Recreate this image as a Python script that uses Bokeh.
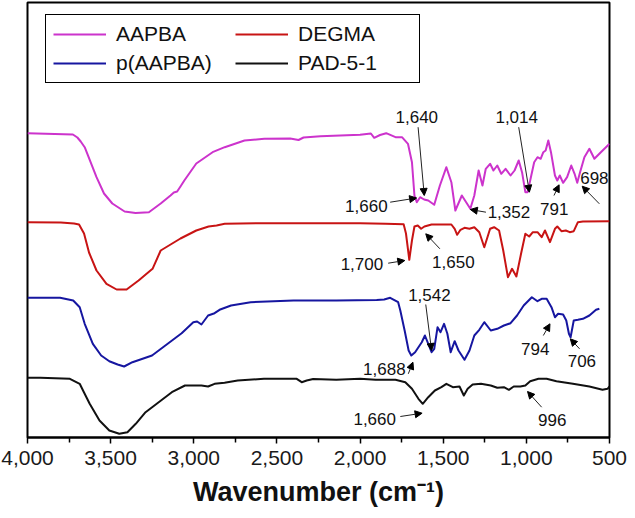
from bokeh.plotting import figure
from bokeh.models import (Range1d, FixedTicker, NumeralTickFormatter, Legend, LegendItem,
                          Arrow, NormalHead, ColumnDataSource)
from bokeh.core.properties import value
from bokeh.embed import file_html
from bokeh.resources import INLINE

# ---------------- data (wavenumber, offset transmittance a.u.) ----------------
aapba_w = [4000, 3727, 3700, 3680, 3656, 3585, 3540, 3490, 3416, 3350, 3270, 3199, 3140, 3120, 3100,
           3080, 3057, 2985, 2887,
           2814, 2695, 2576, 2420, 2370, 2340, 2238, 2000, 1935, 1915, 1880, 1843, 1787, 1748, 1712,
           1688, 1673, 1659, 1639, 1615, 1590, 1554, 1520, 1481, 1451, 1427, 1388, 1362, 1337, 1313,
           1287, 1264, 1244, 1218, 1198, 1175, 1151, 1125, 1095, 1071, 1046, 1026, 1006, 993, 977,
           953, 933, 914, 898, 884, 868, 852, 828, 814, 799, 779, 755, 730, 710, 694,
           677, 651, 621, 591, 552, 500]
aapba_t = [306.3, 305, 302, 298, 292.3, 262.3, 246, 236, 228, 226.5, 227.3, 236, 244, 247, 248,
           253, 259, 276, 287.3,
           292.3, 299, 300.7, 301, 299.5, 302, 303.3, 304.7, 306, 301.7, 304.5, 306.3, 302.3, 302.3, 295.7,
           277.3, 244, 237.3, 242.3, 240, 239, 234.7, 254, 272.3, 257.3, 229, 244, 237.3, 230.7, 244,
           269, 254, 270.7, 275.7, 269, 274, 265.7, 270.7, 264, 269, 279, 267.3, 247.3, 247.3, 259,
           277.3, 282.3, 280.7, 287.3, 289, 299, 287.3, 264, 259, 264, 256.7, 262.3, 274, 265.7, 256.7,
           267.3, 282.3, 290.7, 280.7, 287.3, 295.7]

degma_w = [4000, 3800, 3720, 3690, 3660, 3630, 3585, 3525, 3464, 3404, 3332, 3248, 3199, 3080, 2985,
           2911, 2863, 2814, 2600, 2000, 1847, 1738, 1724, 1704, 1688, 1673, 1653, 1633, 1613, 1570,
           1451, 1431, 1416, 1396, 1372, 1342, 1313, 1283, 1253, 1234, 1218, 1194, 1164, 1139, 1111,
           1086, 1060, 1032, 1006, 983, 961, 933, 908, 888, 858, 828, 814, 789, 763, 739,
           715, 690, 660, 500]
degma_t = [217.3, 217, 216, 215, 206, 187, 169, 155.7, 150, 150, 159, 170.7, 189, 201, 209,
           213, 214, 215.7, 216.3, 216.3, 215.7, 215.2, 206, 179.7, 199, 213, 214, 210.7, 213, 215,
           215, 210.7, 204.7, 209.7, 211.7, 210.7, 212.3, 207.3, 192.3, 202.3, 210.7, 212.3, 209, 189, 162.3,
           170.7, 163, 185.7, 205.7, 203, 207.3, 207.3, 202.3, 209, 197.3, 210.7, 213, 208.3, 209, 207.3,
           208.3, 217.3, 218, 218.3]

paapba_w = [4000, 3804, 3725, 3686, 3656, 3607, 3557, 3508, 3458, 3419, 3369, 3251, 3171, 3073, 3003,
            2980, 2954, 2914, 2875, 2845, 2776, 2658, 2400, 2143, 1900, 1855, 1819, 1771, 1758, 1732,
            1708, 1692, 1669, 1649, 1629, 1610, 1590, 1570, 1554, 1534, 1516, 1495, 1475, 1455, 1431,
            1408, 1372, 1342, 1313, 1283, 1253, 1214, 1175, 1135, 1095, 1056, 1016, 967, 933, 908,
            878, 849, 828, 809, 779, 760, 744, 734, 715, 690, 660, 621, 581, 561]
paapba_t = [141.7, 141.7, 139, 132.3, 115.7, 95.7, 84, 78.3, 75, 73, 77.3, 84, 94, 106.3, 117.3,
            118, 115, 124, 126.3, 129.7, 134, 137.3, 139, 139, 139.5, 140, 141.7, 137.3, 129, 109,
            89, 84, 87.3, 92.3, 97.3, 104, 95.7, 87.3, 90.7, 112.3, 107.3, 115.7, 105.7, 87.3, 98.3,
            89, 79.7, 89, 104, 109.7, 117.3, 109, 110.7, 114, 116.3, 124, 134, 142.3, 138.3, 140.7,
            140.7, 132.3, 122.3, 125.7, 125, 119, 105.7, 102.3, 119, 119.7, 120.7, 124, 129.7, 130.7]

pad_w = [4000, 3923, 3745, 3686, 3660, 3626, 3567, 3508, 3448, 3399, 3349, 3290, 3211, 3132, 3053, 2954,
         2914, 2875, 2815, 2736, 2578, 2381, 2351, 2321, 2282, 2143, 2000, 1906, 1787, 1728, 1688,
         1649, 1623, 1590, 1550, 1511, 1481, 1442, 1402, 1376, 1353, 1323, 1273, 1214, 1175, 1135,
         1105, 1076, 1036, 1006, 977, 927, 878, 819, 720, 621, 542, 512, 500]
pad_t = [61.7, 61.7, 60.7, 55.7, 47, 35.7, 19, 9, 5.7, 7.3, 15.7, 27.3, 37.3, 47.3, 54, 54,
         53, 55.7, 56.7, 59, 60.7, 60.7, 57.3, 59, 60.5, 59.7, 60.7, 59.7, 59.7, 57.3, 50.7,
         40.7, 35.7, 42.3, 49, 52.3, 55.7, 52.3, 53, 44, 50.7, 55, 55.7, 54, 51.7, 52.3,
         49.7, 53, 53, 54, 58.3, 60.7, 60.7, 58.3, 55.7, 53, 49.7, 50.7, 53]

series_names = ["AAPBA", "DEGMA", "p(AAPBA)", "PAD-5-1"]
series_colors = ["#CC33CC", "#C81414", "#1616A0", "#111111"]

# peak annotations: label text, label position, arrow start -> arrow end
ann_text = ["1,640", "1,660", "1,014", "1,352", "791", "698",
            "1,700", "1,650", "1,542", "1,688", "794", "706", "1,660", "996"]
ann_x = [1659, 1962, 1058, 1105, 832, 591, 1989, 1439, 1583, 1854, 947, 666, 1912, 844]
ann_y = [322.3, 234, 322.3, 228, 230.7, 261.3, 175.7, 178, 145, 70.7, 90.7, 79, 20.7, 19.7]
arr_x0 = [1651, 1819, 1046, 1243, 834, 561, 1831, 1520, 1605, 1710, 898, 680, 1758, 908]
arr_y0 = [312.3, 237.3, 312.3, 227.3, 244, 235.7, 176.3, 190.7, 135, 65.7, 104, 90.7, 23, 32.3]
arr_x1 = [1614, 1660, 982, 1337, 803, 664, 1731, 1605, 1570, 1682, 858, 736, 1627, 993]
arr_y1 = [244, 241.5, 247.3, 230, 254.7, 253.3, 179, 205.7, 89, 77.3, 115.7, 100.7, 26.3, 48]

x_ticks = [4000, 3500, 3000, 2500, 2000, 1500, 1000, 500]
x_minor = [3750, 3250, 2750, 2250, 1750, 1250, 750]

FONT = "Liberation Sans"

p = figure(width=627, height=510, output_backend="svg", toolbar_location=None,
           x_range=Range1d(4000, 500), y_range=Range1d(2, 437),
           min_border_left=27, min_border_right=18, min_border_top=2, min_border_bottom=73)
p.background_fill_color = "white"
p.border_fill_color = "white"
p.xgrid.visible = False
p.ygrid.visible = False
p.yaxis.visible = False
p.outline_line_color = "black"
p.outline_line_width = 2
p.outline_line_alpha = 1

ax = p.xaxis[0]
ax.ticker = FixedTicker(ticks=x_ticks, minor_ticks=x_minor)
ax.formatter = NumeralTickFormatter(format="0,0")
ax.axis_line_color = "black"
ax.axis_line_width = 2
ax.major_tick_in = 0
ax.major_tick_out = 6
ax.minor_tick_in = 0
ax.minor_tick_out = 5
ax.major_tick_line_width = 1.5
ax.minor_tick_line_width = 1.5
ax.major_tick_line_color = "black"
ax.minor_tick_line_color = "black"
ax.major_label_text_font = FONT
ax.major_label_text_font_size = "21px"
ax.major_label_text_color = "#1a1a1a"
ax.major_label_standoff = 7
ax.axis_label = "Wavenumber (cm\u207b\u00b9)"
ax.axis_label_text_font = FONT
ax.axis_label_text_font_size = "27px"
ax.axis_label_text_font_style = "bold"
ax.axis_label_text_color = "#111111"
ax.axis_label_standoff = 9

ws = [aapba_w, degma_w, paapba_w, pad_w]
ts = [aapba_t, degma_t, paapba_t, pad_t]
renderers = []
for w, t, c in zip(ws, ts, series_colors):
    r = p.line(x=w, y=t, line_color=c, line_width=2, line_join="round")
    renderers.append(r)

src = ColumnDataSource(dict(x=ann_x, y=ann_y, text=ann_text))
p.text(x="x", y="y", text="text", source=src, text_font=value(FONT),
       text_font_size=value("17px"), text_align="center", text_baseline="middle",
       text_color="#111111")

asrc = ColumnDataSource(dict(x0=arr_x0, y0=arr_y0, x1=arr_x1, y1=arr_y1))
p.add_layout(Arrow(source=asrc, x_start="x0", y_start="y0", x_end="x1", y_end="y1",
                   line_color="#222222", line_width=1,
                   end=NormalHead(size=7, fill_color="black", line_color="black", line_width=1)))

items = [LegendItem(label=series_names[i], renderers=[renderers[i]]) for i in (0, 2, 1, 3)]
legend = Legend(items=items, location=(18, 354), orientation="vertical", nrows=2,
                border_line_color="black", border_line_width=1, border_line_alpha=1,
                padding=7, spacing=5, margin=0,
                glyph_width=53, glyph_height=24, label_height=24, label_width=114,
                label_standoff=10, label_text_font=FONT, label_text_font_size="21px",
                label_text_color="#111111", background_fill_alpha=1)
p.add_layout(legend)

open("out.html", "w").write(file_html(p, INLINE))
